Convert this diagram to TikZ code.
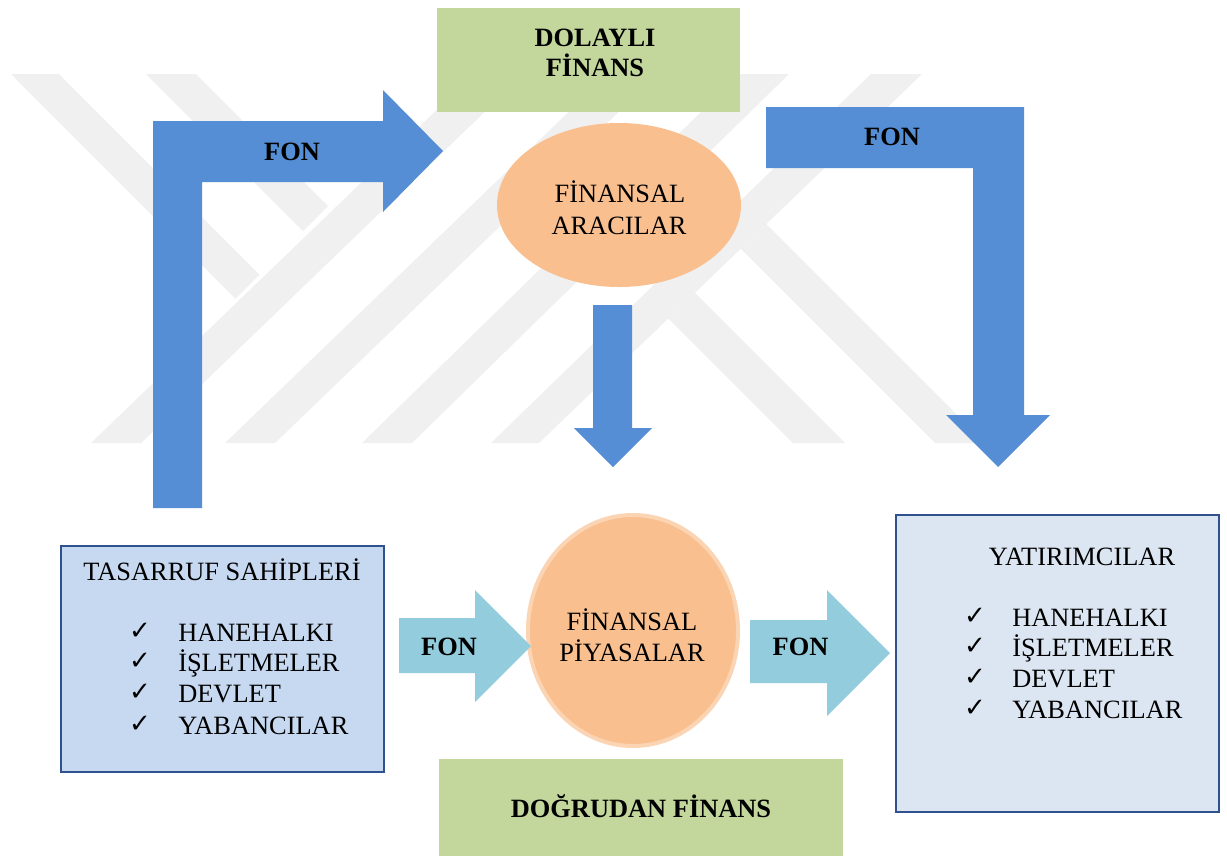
\documentclass[tikz,border=0pt]{standalone}
\usepackage{fontspec}
\setmainfont{Liberation Serif}
\newfontfamily\chkfont{DejaVu Sans}
\usetikzlibrary{shapes.geometric}
\definecolor{wm}{RGB}{240,240,240}
\definecolor{darrow}{RGB}{85,142,213}
\definecolor{larrow}{RGB}{147,205,221}
\definecolor{greenbox}{RGB}{195,214,155}
\definecolor{peach}{RGB}{249,191,143}
\definecolor{peachedge}{RGB}{251,212,180}
\definecolor{boxL}{RGB}{198,217,241}
\definecolor{boxR}{RGB}{220,230,242}
\definecolor{boxedge}{RGB}{47,82,143}
\begin{document}
\begin{tikzpicture}[x=0.75pt,y=-0.75pt,
  txt/.style={inner sep=0pt, font=\fontsize{19.8}{23.3}\selectfont, text height=13.1pt, text depth=0pt},
  btxt/.style={inner sep=0pt, font=\fontsize{19.8}{23.3}\selectfont\bfseries, text height=13.1pt, text depth=0pt},
  chk/.style={inner sep=0pt, font=\chkfont\fontsize{19.5}{20}\selectfont},
  listbox/.style={draw=boxedge, line width=1.4pt, inner sep=0pt, rectangle},
  greenrect/.style={fill=greenbox, inner sep=0pt, rectangle},
  peachoval/.style={fill=peach, ellipse, inner sep=0pt},
  bigarrow/.style={fill=darrow},
  smallarrow/.style={fill=larrow},
  wmark/.style={fill=wm}
]
% canvas
\fill[white] (0,0) rectangle (1227,858);
\path[use as bounding box] (0,0) rectangle (1227,858);

% watermark
\fill[wmark] (11,74) -- (59,74) -- (259.5,274.5) -- (235.5,298.5) -- cycle;
\fill[wmark] (146,74) -- (196,74) -- (328,206) -- (303,231) -- cycle;
\fill[wmark] (91,443) -- (141,443) -- (524,74) -- (474,74) -- cycle;
\fill[wmark] (225,443) -- (275,443) -- (658,74) -- (608,74) -- cycle;
\fill[wmark] (362,443) -- (412,443) -- (789,74) -- (740,74) -- cycle;
\fill[wmark] (491,443) -- (539,443) -- (922,74) -- (871,74) -- cycle;
\fill[wmark] (668.4,318.4) -- (694.8,292.8) -- (845,443) -- (793,443) -- cycle;
\fill[wmark] (740.7,248.7) -- (766.2,224.2) -- (985,443) -- (935,443) -- cycle;

% boxes
\node[greenrect, minimum width=227.25pt, minimum height=78pt] (dolayli) at (588.5,60) {};
\node[greenrect, minimum width=303pt, minimum height=72.75pt] (dogrudan) at (641,807.5) {};
\node[listbox, fill=boxL, minimum width=242.25pt, minimum height=169.5pt] (tasarruf) at (222.5,659) {};
\node[listbox, fill=boxR, minimum width=242.25pt, minimum height=222.75pt] (yatirim) at (1057.5,663.5) {};

% ovals
\node[peachoval, minimum width=183pt, minimum height=123pt] (aracilar) at (619,205) {};
\node[peachoval, draw=peachedge, line width=3pt, minimum width=157.5pt, minimum height=173.25pt] (piyasalar) at (633,630.5) {};

% big blue arrows
\fill[bigarrow] (153,508) -- (153,121) -- (383,121) -- (383,90) -- (443,151)
  -- (383,212) -- (383,182) -- (202,182) -- (202,508) -- cycle;
\fill[bigarrow] (766,107) -- (1024,107) -- (1024,415) -- (1050,415) -- (998,467)
  -- (946,415) -- (973,415) -- (973,168) -- (766,168) -- cycle;
\fill[bigarrow] (593,305) -- (632,305) -- (632,428) -- (652,428) -- (613,467)
  -- (574,428) -- (593,428) -- cycle;

% light arrows
\fill[smallarrow] (399,618) -- (475,618) -- (475,590) -- (531,646) -- (475,702)
  -- (475,673) -- (399,673) -- cycle;
\fill[smallarrow] (750,620) -- (827,620) -- (827,590) -- (890,653) -- (827,716)
  -- (827,683) -- (750,683) -- cycle;

% texts
\node[btxt] (t-dol1) at (595,38) {DOLAYLI};
\node[btxt] (t-dol2) at (595,68) {FİNANS};
\node[btxt] (t-fon1) at (292,152) {FON};
\node[btxt] (t-fon2) at (892,137) {FON};
\node[txt] (t-ara1) at (620,194) {FİNANSAL};
\node[txt] (t-ara2) at (619,226) {ARACILAR};
\node[txt] (t-piy1) at (632,622) {FİNANSAL};
\node[txt] (t-piy2) at (632,653) {PİYASALAR};
\node[btxt] (t-fon3) at (449,647) {FON};
\node[btxt] (t-fon4) at (800.5,647) {FON};
\node[btxt] (t-dog) at (641,809) {DOĞRUDAN FİNANS};

\node[txt] (t-tas) at (222,572) {TASARRUF SAHİPLERİ};
\node[chk] (c-l1) at (140,631) {✓};
\node[chk] (c-l2) at (140,661) {✓};
\node[chk] (c-l3) at (140,692) {✓};
\node[chk] (c-l4) at (140,724) {✓};
\node[txt, anchor=west] (i-l1) at (178,633) {HANEHALKI};
\node[txt, anchor=west] (i-l2) at (178,663) {İŞLETMELER};
\node[txt, anchor=west] (i-l3) at (178,694) {DEVLET};
\node[txt, anchor=west] (i-l4) at (178,726) {YABANCILAR};

\node[txt] (t-yat) at (1082,557) {YATIRIMCILAR};
\node[chk] (c-r1) at (975,616) {✓};
\node[chk] (c-r2) at (975,646) {✓};
\node[chk] (c-r3) at (975,677) {✓};
\node[chk] (c-r4) at (975,708) {✓};
\node[txt, anchor=west] (i-r1) at (1012,618) {HANEHALKI};
\node[txt, anchor=west] (i-r2) at (1012,648) {İŞLETMELER};
\node[txt, anchor=west] (i-r3) at (1012,679) {DEVLET};
\node[txt, anchor=west] (i-r4) at (1012,710) {YABANCILAR};
\end{tikzpicture}
\end{document}
